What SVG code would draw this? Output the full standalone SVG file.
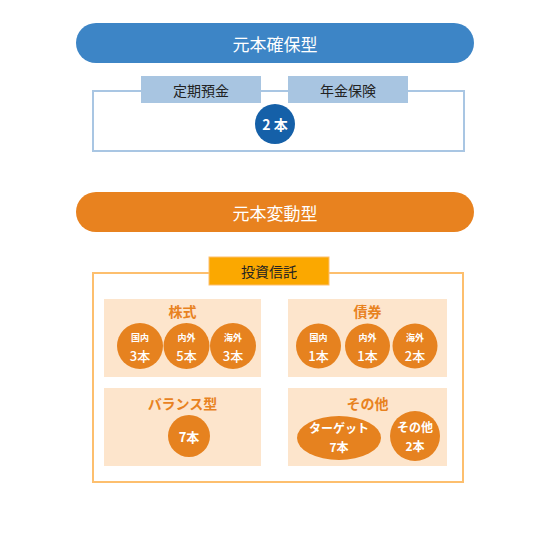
<svg xmlns="http://www.w3.org/2000/svg" width="550" height="550" viewBox="0 0 550 550">
<style>
text{font-family:"Noto Sans CJK JP","Noto Sans",sans-serif;text-anchor:middle;dominant-baseline:central}
.pill-t{fill:#fff;font-size:17px}
.lbl{fill:#222;font-size:14px}
.pt{fill:#e8821f;font-size:14px;font-weight:bold}
.ct{fill:#fff;font-weight:bold}
.s{font-size:9px}
.b{font-size:13px;font-weight:500}
.m{font-size:12px}
.panel{fill:#fde5cc}
.oc{fill:#e6821f}
</style>
<rect width="550" height="550" fill="#fff"/>
<g id="guaranteed">
<rect x="76" y="23" width="398" height="40" rx="20" fill="#3d85c6"/>
<text class="pill-t" x="275" y="43">元本確保型</text>
</g>
<g id="guaranteed-box">
<rect x="93" y="91" width="371" height="60" fill="none" stroke="#a9c6e3" stroke-width="2"/>
</g>
<g id="teiki">
<rect x="141" y="76" width="120" height="27" fill="#a8c5e1"/>
<text class="lbl" x="201" y="89.5">定期預金</text>
</g>
<g id="nenkin">
<rect x="288" y="76" width="120" height="27" fill="#a8c5e1"/>
<text class="lbl" x="348" y="89.5">年金保険</text>
</g>
<g id="count-guaranteed">
<circle cx="275" cy="124" r="20" fill="#1560a8"/>
<text class="ct" x="275" y="124" font-size="14">2 本</text>
</g>
<g id="variable">
<rect x="76" y="192" width="398" height="40" rx="20" fill="#e8821f"/>
<text class="pill-t" x="275" y="212">元本変動型</text>
</g>
<g id="trust-box">
<rect x="93" y="273" width="370" height="209" fill="none" stroke="#fdbf6e" stroke-width="2"/>
</g>
<g id="trust">
<rect x="209" y="257" width="120" height="28" fill="#fba800" stroke="#fdbf6e" stroke-width="1"/>
<text class="lbl" x="269" y="271">投資信託</text>
</g>
<g id="stocks">
<rect class="panel" x="104" y="299" width="157" height="78"/>
<text class="pt" x="182.5" y="311">株式</text>
<circle class="oc" cx="140" cy="346" r="23"/>
<text class="ct s" x="140" y="337">国内</text><text class="ct b" x="140" y="355">3本</text>
<circle class="oc" cx="186.5" cy="346" r="23"/>
<text class="ct s" x="186.5" y="337">内外</text><text class="ct b" x="186.5" y="355">5本</text>
<circle class="oc" cx="233" cy="346" r="23"/>
<text class="ct s" x="233" y="337">海外</text><text class="ct b" x="233" y="355">3本</text>
</g>
<g id="bonds">
<rect class="panel" x="288" y="299" width="159" height="78"/>
<text class="pt" x="367.5" y="311">債券</text>
<circle class="oc" cx="318.5" cy="346" r="22.5"/>
<text class="ct s" x="318.5" y="337">国内</text><text class="ct b" x="318.5" y="355">1本</text>
<circle class="oc" cx="367.5" cy="346" r="22.5"/>
<text class="ct s" x="367.5" y="337">内外</text><text class="ct b" x="367.5" y="355">1本</text>
<circle class="oc" cx="415" cy="346" r="22.5"/>
<text class="ct s" x="415" y="337">海外</text><text class="ct b" x="415" y="355">2本</text>
</g>
<g id="balance">
<rect class="panel" x="104" y="388" width="157" height="78"/>
<text class="pt" x="182.5" y="403">バランス型</text>
<circle class="oc" cx="189" cy="436" r="21"/>
<text class="ct" x="189" y="436" font-size="13">7本</text>
</g>
<g id="others">
<rect class="panel" x="288" y="388" width="159" height="78"/>
<text class="pt" x="367.5" y="403">その他</text>
<ellipse class="oc" cx="339" cy="438" rx="42" ry="22"/>
<text class="ct m" x="339" y="427">ターゲット</text>
<text class="ct m" x="339" y="446">7本</text>
<circle class="oc" cx="415" cy="436" r="25"/>
<text class="ct m" x="415" y="426.5">その他</text>
<text class="ct m" x="415" y="445.5">2本</text>
</g>
<g id="connectors"></g>
</svg>
